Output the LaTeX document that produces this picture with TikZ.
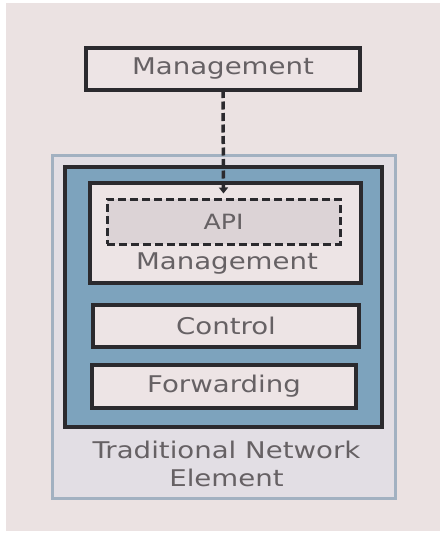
\documentclass[tikz,border=0pt]{standalone}
\usepackage{fontspec}
\setmainfont[FakeStretch=1.2]{DejaVu Sans}
\usetikzlibrary{arrows.meta}
\definecolor{bgpink}{HTML}{EBE2E2}
\definecolor{boxfill}{HTML}{EDE4E5}
\definecolor{apifill}{HTML}{DCD3D6}
\definecolor{tnefill}{HTML}{E2DEE4}
\definecolor{tneline}{HTML}{A2B1C1}
\definecolor{steel}{HTML}{7DA3BD}
\definecolor{darkline}{HTML}{2B2A2E}
\definecolor{txt}{HTML}{666164}
\tikzset{
  lbl/.style={text=txt, font=\fontsize{23}{27}\selectfont, inner sep=0pt},
  solidbox/.style={draw=darkline, line width=3.5pt, fill=boxfill, inner sep=0pt, outer sep=0pt, text=txt, font=\fontsize{23}{27}\selectfont},
}
\begin{document}
\begin{tikzpicture}[x=1pt,y=-1pt]
\useasboundingbox (0,0) rectangle (440,533);
\fill[white] (0,0) rectangle (440,533);
\fill[bgpink] (6,3) rectangle (440,531);
% outer traditional network element
\node[draw=tneline, fill=tnefill, line width=3pt, minimum width=343pt, minimum height=343pt, inner sep=0pt] (tne) at (223.5,326.5) {};
% steel blue frame
\node[draw=darkline, fill=steel, line width=3.8pt, minimum width=317pt, minimum height=260pt, inner sep=0pt] (steelbox) at (223.5,297) {};
% inner management
\node[solidbox, minimum width=271pt, minimum height=100pt] (innermgmt) at (225.5,233) {};
\node[draw=darkline, dashed, dash pattern=on 8pt off 4pt, line width=3pt, fill=apifill, minimum width=233pt, minimum height=45pt, inner sep=0pt, text=txt, font=\fontsize{21}{25}\selectfont] (api) at (223.5,221.5) {API};
\node[lbl] (imtext) at (227,264) {Management};
% control and forwarding
\node[solidbox, minimum width=266pt, minimum height=42pt] (control) at (226,326) {Control};
\node[solidbox, minimum width=264pt, minimum height=43pt] (fwd) at (224,386.5) {Forwarding};
% caption
\node[lbl, align=center, font=\fontsize{23}{28}\selectfont] (tnetext) at (226.5,464) {Traditional Network\\Element};
% top management
\node[solidbox, minimum width=274pt, minimum height=42pt] (mgmt) at (223,69) {Management};
% dashed arrow
\draw[darkline, line width=3.5pt, dash pattern=on 8pt off 3.5pt, -{Triangle[width=9pt,length=6pt]}, shorten >=4pt] (mgmt.south) -- (api.north);
\end{tikzpicture}
\end{document}
